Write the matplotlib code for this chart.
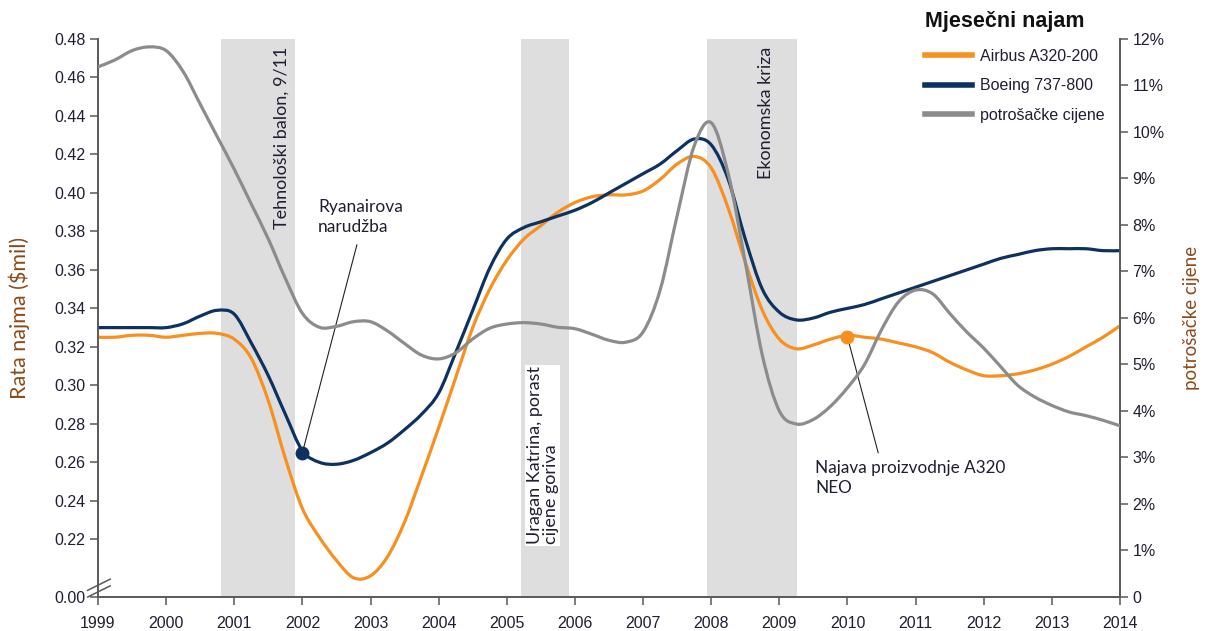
import matplotlib
matplotlib.use("Agg")
import matplotlib.pyplot as plt
from matplotlib.path import Path
from matplotlib.patches import PathPatch

# quarterly readings, 1999 - 2014
years = [1999 + q / 4 for q in range(61)]

airbus = [0.325, 0.325, 0.326, 0.326, 0.325, 0.326, 0.327, 0.327,
          0.324, 0.314, 0.292, 0.262, 0.236, 0.221, 0.209, 0.200,
          0.201, 0.211, 0.229, 0.253, 0.278, 0.304, 0.330, 0.350,
          0.365, 0.376, 0.383, 0.390, 0.395, 0.398, 0.399, 0.399,
          0.401, 0.407, 0.415, 0.419, 0.413, 0.392, 0.364, 0.339,
          0.324, 0.319, 0.321, 0.324, 0.326, 0.325, 0.324, 0.322,
          0.320, 0.317, 0.312, 0.308, 0.305, 0.305, 0.306, 0.308,
          0.311, 0.315, 0.320, 0.325, 0.331]

boeing = [0.330, 0.330, 0.330, 0.330, 0.330, 0.332, 0.336, 0.339,
          0.337, 0.322, 0.305, 0.285, 0.266, 0.260, 0.259, 0.261,
          0.265, 0.270, 0.277, 0.285, 0.296, 0.317, 0.339, 0.361,
          0.376, 0.382, 0.385, 0.388, 0.391, 0.395, 0.400, 0.405,
          0.410, 0.415, 0.422, 0.428, 0.425, 0.407, 0.376, 0.350,
          0.338, 0.334, 0.335, 0.338, 0.340, 0.342, 0.345, 0.348,
          0.351, 0.354, 0.357, 0.360, 0.363, 0.366, 0.368, 0.370,
          0.371, 0.371, 0.371, 0.370, 0.370]

cpi = [11.40, 11.55, 11.75, 11.83, 11.75, 11.30, 10.60, 9.90,
       9.20, 8.45, 7.70, 6.85, 6.10, 5.80, 5.82, 5.92,
       5.92, 5.72, 5.45, 5.20, 5.12, 5.25, 5.55, 5.78,
       5.87, 5.90, 5.87, 5.80, 5.77, 5.65, 5.52, 5.48,
       5.70, 6.60, 8.20, 9.70, 10.20, 9.10, 7.20, 5.20,
       4.00, 3.72, 3.82, 4.10, 4.50, 5.00, 5.75, 6.35,
       6.60, 6.52, 6.10, 5.70, 5.35, 4.95, 4.55, 4.30,
       4.12, 3.98, 3.90, 3.80, 3.68]

bands = [(2000.81, 2001.89), (2005.21, 2005.92), (2007.94, 2009.26)]

left_ticks = [0.19, 0.22, 0.24, 0.26, 0.28, 0.30, 0.32, 0.34, 0.36,
              0.38, 0.40, 0.42, 0.44, 0.46, 0.48]
left_labels = ['0.00'] + ['%.2f' % t for t in left_ticks[1:]]
right_ticks = list(range(13))
right_labels = ['0'] + ['%d%%' % t for t in right_ticks[1:]]
x_ticks = list(range(1999, 2015))

ryanair = (2002.0, 0.265)
neo = (2010.0, 0.325)

orange = '#F7901E'
navy = '#0E3260'
grey = '#8C8C8C'
tick_col = '#1F1F33'
label_col = '#8B4A1C'
spine_col = '#595959'

plt.rcParams['font.family'] = ['Liberation Sans', 'DejaVu Sans']
note_font = ['Lato', 'DejaVu Sans']


def smooth_line(ax, xs, ys, color):
    # smoothed line through the points, like a spreadsheet "smoothed line"
    pts = list(zip(xs, ys))
    n = len(pts)
    verts = [pts[0]]
    codes = [Path.MOVETO]
    for i in range(n - 1):
        p0 = pts[i - 1] if i > 0 else pts[i]
        p1 = pts[i]
        p2 = pts[i + 1]
        p3 = pts[i + 2] if i + 2 < n else pts[i + 1]
        c1 = (p1[0] + (p2[0] - p0[0]) / 6, p1[1] + (p2[1] - p0[1]) / 6)
        c2 = (p2[0] - (p3[0] - p1[0]) / 6, p2[1] - (p3[1] - p1[1]) / 6)
        verts += [c1, c2, p2]
        codes += [Path.CURVE4] * 3
    patch = PathPatch(Path(verts, codes), fill=False, edgecolor=color,
                      lw=2.3, capstyle='round', joinstyle='round', zorder=3)
    ax.add_patch(patch)


fig = plt.figure(figsize=(12.05, 6.31), dpi=100)
ax = fig.add_axes([0.0813, 0.0539, 0.8482, 0.8843])
ax2 = ax.twinx()

for a, b in bands:
    ax.axvspan(a, b, color='#DEDEDE', lw=0, zorder=0)

smooth_line(ax, years, airbus, orange)
smooth_line(ax, years, boeing, navy)
smooth_line(ax2, years, cpi, grey)

ax.set_xlim(1999, 2014)
ax.set_ylim(0.19, 0.48)
ax2.set_ylim(0, 12)
ax.set_xticks(x_ticks)
ax.set_xticklabels([str(y) for y in x_ticks])
ax.set_yticks(left_ticks)
ax.set_yticklabels(left_labels)
ax2.set_yticks(right_ticks)
ax2.set_yticklabels(right_labels)

for a in (ax, ax2):
    a.spines['top'].set_visible(False)
    for s in ('left', 'right', 'bottom'):
        a.spines[s].set_color(spine_col)
        a.spines[s].set_linewidth(1.2)
    a.tick_params(colors=spine_col, labelcolor=tick_col, labelsize=11.5,
                  length=6, width=1.1, direction='out')
ax.tick_params(axis='x', pad=8)
ax.tick_params(axis='y', pad=3)
ax2.tick_params(axis='y', pad=3)

ax.set_ylabel('Rata najma ($mil)', family=note_font, fontsize=15.5,
              color=label_col, labelpad=17)
ax2.set_ylabel('potrošačke cijene', family=note_font, fontsize=13.5,
               color=label_col, labelpad=13)

# axis break marks
kw = dict(transform=ax.transAxes, color=spine_col, lw=1.1, clip_on=False, zorder=5)
ax.plot([-0.01, 0.012], [0.012, 0.032], **kw)
ax.plot([-0.01, 0.012], [0.0, 0.02], **kw)

# event labels
ax.text(2001.7, 0.476, 'Tehnološki balon, 9/11', rotation=90, ha='center',
        va='top', family=note_font, fontsize=13, color=tick_col)
ax.text(2008.8, 0.476, 'Ekonomska kriza', rotation=90, ha='center',
        va='top', family=note_font, fontsize=13, color=tick_col)
ax.text(2005.53, 0.2175, 'Uragan Katrina, porast\ncijene goriva', rotation=90,
        ha='center', va='bottom', multialignment='left', family=note_font,
        fontsize=13, color=tick_col, linespacing=1.0, zorder=4,
        bbox=dict(facecolor='white', edgecolor='none', pad=1))

ax.plot([ryanair[0], 2002.8], [ryanair[1], 0.373], color='#222222', lw=0.8, zorder=4)
ax.plot(*ryanair, 'o', color=navy, ms=9, zorder=5)
ax.text(2002.23, 0.397, 'Ryanairova\nnarudžba', ha='left', va='top',
        family=note_font, fontsize=12.5, color=tick_col, linespacing=1.3)

ax.plot([neo[0], 2010.45], [neo[1], 0.265], color='#222222', lw=0.8, zorder=4)
ax.plot(*neo, 'o', color=orange, ms=9, zorder=5)
ax.text(2009.53, 0.261, 'Najava proizvodnje A320\nNEO', ha='left', va='top',
        family=note_font, fontsize=12.3, color=tick_col, linespacing=1.3)

# legend
fig.text(925 / 1205, 1 - 21 / 631, 'Mjesečni najam', ha='left', va='center',
         fontsize=15.5, weight='bold', color='#111111')
handles = [plt.Line2D([], [], color=c, lw=4) for c in (orange, navy, grey)]
leg = ax2.legend(handles, ['Airbus A320-200', 'Boeing 737-800', 'potrošačke cijene'],
                 loc='upper left', bbox_to_anchor=(925 / 1205, 1 - 49 / 631),
                 bbox_transform=fig.transFigure, frameon=False, fontsize=11.5,
                 handlelength=2.95, handletextpad=0.5, labelspacing=0.9,
                 borderpad=0, borderaxespad=0)
for t in leg.get_texts():
    t.set_color(tick_col)

fig.savefig('out.png', dpi=100)
